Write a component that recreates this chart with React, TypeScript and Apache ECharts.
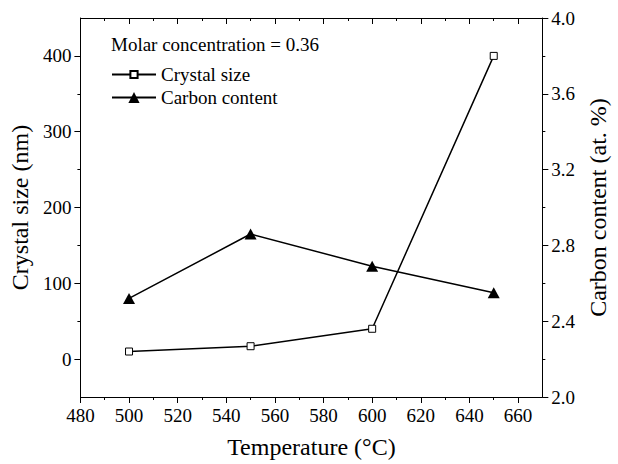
import React, { useEffect, useRef } from "react";
import * as echarts from "echarts";

const temperatures = [500, 550, 600, 650];
const crystalSize = [10, 17, 40, 400];
const carbonContent = [2.52, 2.86, 2.69, 2.55];

const xTicks = [480, 500, 520, 540, 560, 580, 600, 620, 640, 660];
const xMinorTicks = [490, 510, 530, 550, 570, 590, 610, 630, 650];
const leftTicks = [0, 100, 200, 300, 400];
const leftMinorTicks = [50, 150, 250, 350];
const rightTicks = [2.0, 2.4, 2.8, 3.2, 3.6, 4.0];
const rightMinorTicks = [2.2, 2.6, 3.0, 3.4, 3.8];

const FONT = "'Liberation Serif'";
const BLACK = "#000";

export default function App() {
  const ref = useRef<HTMLDivElement>(null);

  useEffect(() => {
    if (!ref.current) return;
    const chart = echarts.init(ref.current, null, { renderer: "svg" });

    const baseLine = { show: true, onZero: false, lineStyle: { color: BLACK, width: 1 } };
    const noLine = { show: false, onZero: false };
    const lbl = { fontFamily: FONT, fontSize: 19, color: BLACK, margin: 9 };
    const nameStyle = { fontFamily: FONT, fontSize: 24, color: BLACK };

    const xCommon = { type: "value", min: 480, max: 670, splitLine: { show: false } };
    const yLeft = { type: "value", min: -50, max: 450, splitLine: { show: false } };
    const yRight = { type: "value", min: 2.0, max: 4.0, splitLine: { show: false } };

    chart.setOption({
      animation: false,
      backgroundColor: "#fff",
      textStyle: { fontFamily: FONT },
      grid: { left: 78, right: 63, top: 18, bottom: 62, containLabel: false },
      xAxis: [
        {
          ...xCommon,
          position: "bottom",
          axisLine: baseLine,
          axisTick: { show: true, customValues: xTicks, length: 6, lineStyle: { color: BLACK } },
          axisLabel: { ...lbl, customValues: xTicks },
          name: "Temperature (°C)",
          nameLocation: "middle",
          nameGap: 38,
          nameTextStyle: nameStyle,
        },
        {
          ...xCommon,
          position: "bottom",
          axisLine: noLine,
          axisTick: { show: true, customValues: xMinorTicks, length: 3, lineStyle: { color: BLACK } },
          axisLabel: { show: false },
        },
        {
          ...xCommon,
          position: "top",
          axisLine: baseLine,
          axisTick: { show: true, inside: true, customValues: xTicks, length: 6, lineStyle: { color: BLACK } },
          axisLabel: { show: false },
        },
        {
          ...xCommon,
          position: "top",
          axisLine: noLine,
          axisTick: { show: true, inside: true, customValues: xMinorTicks, length: 3, lineStyle: { color: BLACK } },
          axisLabel: { show: false },
        },
      ],
      yAxis: [
        {
          ...yLeft,
          position: "left",
          axisLine: baseLine,
          axisTick: { show: true, customValues: leftTicks, length: 6, lineStyle: { color: BLACK } },
          axisLabel: { ...lbl, customValues: leftTicks },
          name: "Crystal size (nm)",
          nameLocation: "middle",
          nameRotate: 90,
          nameGap: 44,
          nameTextStyle: nameStyle,
        },
        {
          ...yRight,
          position: "right",
          axisLine: baseLine,
          axisTick: { show: true, customValues: rightTicks, length: 6, lineStyle: { color: BLACK } },
          axisLabel: {
            ...lbl,
            customValues: rightTicks,
            formatter: (v: number) => v.toFixed(1),
          },
          name: "Carbon content (at. %)",
          nameLocation: "middle",
          nameRotate: 90,
          nameGap: 39,
          nameTextStyle: nameStyle,
        },
        {
          ...yLeft,
          position: "left",
          axisLine: noLine,
          axisTick: { show: true, customValues: leftMinorTicks, length: 3, lineStyle: { color: BLACK } },
          axisLabel: { show: false },
        },
        {
          ...yRight,
          position: "right",
          axisLine: noLine,
          axisTick: { show: true, customValues: rightMinorTicks, length: 3, lineStyle: { color: BLACK } },
          axisLabel: { show: false },
        },
      ],
      legend: [
        {
          data: ["Crystal size"],
          left: 111,
          top: 65,
          padding: 0,
          itemWidth: 44,
          itemHeight: 9,
          textStyle: { fontFamily: FONT, fontSize: 19, color: BLACK },
        },
        {
          data: ["Carbon content"],
          left: 111,
          top: 88,
          padding: 0,
          itemWidth: 44,
          itemHeight: 14,
          textStyle: { fontFamily: FONT, fontSize: 19, color: BLACK },
        },
      ],
      graphic: [
        {
          type: "text",
          left: 111,
          top: 35,
          style: { text: "Molar concentration = 0.36", fontFamily: FONT, fontSize: 19, fill: BLACK },
        },
      ],
      series: [
        {
          name: "Crystal size",
          type: "line",
          xAxisIndex: 0,
          yAxisIndex: 0,
          data: temperatures.map((t, i) => [t, crystalSize[i]]),
          symbol: "rect",
          symbolSize: 7,
          itemStyle: { color: "#fff", borderColor: BLACK, borderWidth: 1 },
          lineStyle: { color: BLACK, width: 1.5 },
          z: 3,
        },
        {
          name: "Carbon content",
          type: "line",
          xAxisIndex: 0,
          yAxisIndex: 1,
          data: temperatures.map((t, i) => [t, carbonContent[i]]),
          symbol: "triangle",
          symbolSize: [12, 11],
          itemStyle: { color: BLACK },
          lineStyle: { color: BLACK, width: 1.5 },
          z: 2,
        },
      ],
    });

    return () => chart.dispose();
  }, []);

  return (
    <div
      ref={ref}
      style={{ position: "absolute", left: 0, top: 0, width: 618, height: 464, background: "#fff" }}
    />
  );
}
